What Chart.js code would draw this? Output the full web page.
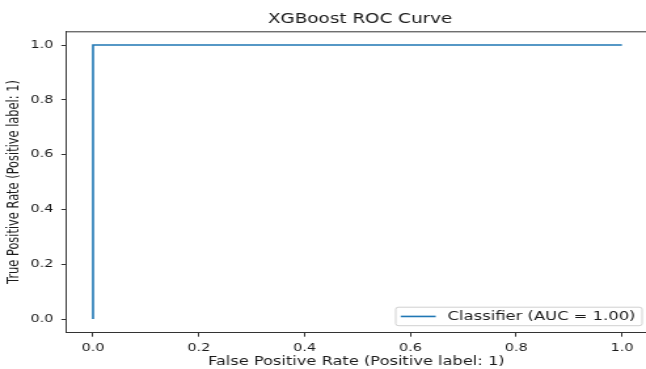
<!DOCTYPE html>
<html>
<head>
<meta charset="utf-8">
<script src="https://cdn.jsdelivr.net/npm/chart.js@4/dist/chart.umd.min.js"></script>
<style>
  html, body { margin: 0; padding: 0; background: #fff; overflow: hidden; }
  #wrap { width: 493px; height: 369px; transform: scaleX(1.3103); transform-origin: 0 0; }
</style>
</head>
<body>
<div id="wrap"><canvas id="roc" width="493" height="369"></canvas></div>
<script>
// ROC curve points
const fpr = [0.0, 0.0, 1.0];
const tpr = [0.0, 1.0, 1.0];
const xTicks = [0.0, 0.2, 0.4, 0.6, 0.8, 1.0];
const yTicks = [0.0, 0.2, 0.4, 0.6, 0.8, 1.0];
const seriesLabel = 'Classifier (AUC = 1.00)';
const chartTitle = 'XGBoost ROC Curve';

const FONT = "'DejaVu Sans', sans-serif";
const INK = '#1a1a1a';
const SPINE = '#333';

// matplotlib-like frame, title and legend box
const mplBits = {
    id: 'mplBits',
    afterDraw(chart) {
        const c = chart.ctx;
        const a = chart.chartArea;
        const xs = chart.scales.x;
        c.save();
        // top spine
        c.strokeStyle = SPINE;
        c.lineWidth = 1;
        c.beginPath();
        c.moveTo(a.left, a.top + 0.5);
        c.lineTo(a.right, a.top + 0.5);
        c.stroke();

        // title centred on the axes
        const axRight = xs.getPixelForValue(1.05);
        c.fillStyle = INK;
        c.font = '14px ' + FONT;
        c.textAlign = 'center';
        c.textBaseline = 'middle';
        c.fillText(chartTitle, (a.left + axRight) / 2 + 2, 19);

        // legend in lower right
        const ds = chart.data.datasets[0];
        c.font = '12.5px ' + FONT;
        const tw = c.measureText(ds.label).width;
        const boxRight = a.right - 3;
        const boxBottom = a.bottom - 7;
        const boxH = 18.5;
        const textEnd = boxRight - 5;
        const textStart = textEnd - tw;
        const lineEnd = textStart - 9;
        const lineStart = lineEnd - 26.7;
        const boxLeft = lineStart - 3.8;
        const midY = boxBottom - boxH / 2;
        c.fillStyle = 'rgba(255,255,255,0.8)';
        c.strokeStyle = '#d0d0d0';
        c.lineWidth = 1;
        c.beginPath();
        c.roundRect(boxLeft, boxBottom - boxH, boxRight - boxLeft, boxH, 2);
        c.fill();
        c.stroke();
        c.strokeStyle = ds.borderColor;
        c.lineWidth = ds.borderWidth;
        c.beginPath();
        c.moveTo(lineStart, midY);
        c.lineTo(lineEnd, midY);
        c.stroke();
        c.fillStyle = INK;
        c.textAlign = 'left';
        c.textBaseline = 'middle';
        c.fillText(ds.label, textStart, midY + 0.5);
        c.restore();
    }
};

const points = fpr.map((v, i) => ({ x: v, y: tpr[i] }));

new Chart(document.getElementById('roc'), {
    type: 'scatter',
    data: {
        datasets: [{
            label: seriesLabel,
            data: points,
            showLine: true,
            borderColor: '#1f77b4',
            backgroundColor: '#1f77b4',
            borderWidth: 1.6,
            pointRadius: 0,
            tension: 0
        }]
    },
    options: {
        responsive: false,
        animation: false,
        devicePixelRatio: 1,
        layout: { padding: { top: 31.3, right: 0, bottom: 0, left: 0 } },
        scales: {
            x: {
                type: 'linear',
                min: -0.05,
                max: 1.0454,
                afterBuildTicks: (s) => { s.ticks = xTicks.map(v => ({ value: v })); },
                afterFit: (s) => { s.height = 36.3; },
                ticks: {
                    callback: (v) => v.toFixed(1),
                    color: INK,
                    font: { family: FONT, size: 11 },
                    padding: 5,
                    maxRotation: 0
                },
                grid: { drawOnChartArea: false, drawTicks: true, tickLength: 4, color: SPINE },
                border: { display: true, color: SPINE, width: 1 },
                title: {
                    display: true,
                    text: 'False Positive Rate (Positive label: 1)',
                    color: INK,
                    font: { family: FONT, size: 12.4 },
                    padding: { top: 0, bottom: 0 }
                }
            },
            y: {
                type: 'linear',
                min: -0.05,
                max: 1.05,
                afterBuildTicks: (s) => { s.ticks = yTicks.map(v => ({ value: v })); },
                afterFit: (s) => { s.width = 50.8; },
                ticks: {
                    callback: (v) => v.toFixed(1),
                    color: INK,
                    font: { family: FONT, size: 11 },
                    padding: 6
                },
                grid: { drawOnChartArea: false, drawTicks: true, tickLength: 4, color: SPINE },
                border: { display: true, color: SPINE, width: 1 },
                title: {
                    display: true,
                    text: 'True Positive Rate (Positive label: 1)',
                    color: INK,
                    font: { family: FONT, size: 11.4 },
                    padding: { top: 4.5, bottom: 0 }
                }
            }
        },
        plugins: {
            legend: { display: false },
            title: { display: false },
            tooltip: { enabled: false }
        }
    },
    plugins: [mplBits]
});
</script>
</body>
</html>
